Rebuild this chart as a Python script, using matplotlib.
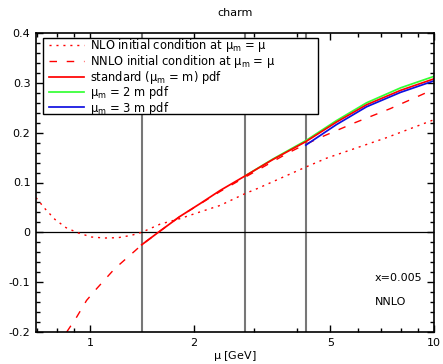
import numpy as np
import matplotlib
matplotlib.use('Agg')
import matplotlib.pyplot as plt
from matplotlib.lines import Line2D
from matplotlib.patches import Rectangle
from matplotlib.ticker import FixedLocator, FixedFormatter, MultipleLocator

plt.rcParams['font.family'] = ['DejaVu Sans']
plt.rcParams['axes.unicode_minus'] = False
plt.rcParams['mathtext.default'] = 'regular'

# values
mass = 1.414
thresholds = [mass, 2 * mass, 3 * mass]

nlo_mu = [0.697, 0.740, 0.791, 0.852, 0.925, 1.011, 1.105, 1.208, 1.32, 1.414,
          1.60, 1.827, 2.09, 2.39, 2.83, 3.07, 4.24, 4.88, 7.28, 10.0]
nlo_val = [0.0696, 0.0475, 0.026, 0.0094, -0.0013, -0.0094, -0.0114, -0.0107, -0.006, 0.0,
           0.0165, 0.0275, 0.041, 0.054, 0.078, 0.088, 0.131, 0.149, 0.190, 0.226]

nnlo_mu = [0.856, 0.915, 0.978, 1.046, 1.18, 1.35, 1.414, 1.58, 1.827, 2.09, 2.39,
           2.83, 3.76, 4.21, 4.77, 5.89, 7.45, 9.48, 10.0]
nnlo_val = [-0.200, -0.170, -0.1365, -0.113, -0.073, -0.0375, -0.025, 0.0, 0.032, 0.057, 0.082,
            0.111, 0.159, 0.176, 0.193, 0.220, 0.248, 0.280, 0.283]

std_mu = [1.414, 1.58, 1.827, 2.09, 2.39, 2.83, 3.4, 4.24, 5.2, 6.37, 8.0, 10.0]
std_val = [-0.025, 0.0, 0.032, 0.0576, 0.084, 0.1135, 0.146, 0.182, 0.221, 0.256, 0.285, 0.308]

two_mu = [2.83, 3.4, 4.24, 5.2, 6.37, 8.0, 10.0]
two_val = [0.1135, 0.147, 0.184, 0.224, 0.260, 0.290, 0.313]

three_mu = [4.24, 5.2, 6.37, 8.0, 10.0]
three_val = [0.175, 0.216, 0.252, 0.281, 0.304]

xticks = [1, 2, 5, 10]
xticklabels = ['1', '2', '5', '10']
yticks = [-0.2, -0.1, 0.0, 0.1, 0.2, 0.3, 0.4]
yticklabels = ['-0.2', '-0.1', '0', '0.1', '0.2', '0.3', '0.4']

fig = plt.figure(figsize=(4.43, 3.64), dpi=100)
ax = fig.add_axes([36 / 443, 1 - 332 / 364, 398 / 443, 299 / 364])

for t in thresholds:
    ax.axvline(t, color='#777777', lw=1.5, zorder=1)
ax.axhline(0, color='black', lw=0.9, zorder=1)

series = [
    (nlo_mu, nlo_val, dict(color='red', lw=1.0, ls=(0, (1.5, 3.5))),
     r'NLO initial condition at $\mu_{m}$ = $\mu$'),
    (nnlo_mu, nnlo_val, dict(color='red', lw=1.0, ls=(0, (5.4, 7.0))),
     r'NNLO initial condition at $\mu_{m}$ = $\mu$'),
    (std_mu, std_val, dict(color='red', lw=1.25),
     r'standard ($\mu_{m}$ = m) pdf'),
    (two_mu, two_val, dict(color='#33ff33', lw=1.25, zorder=1.9),
     r'$\mu_{m}$ = 2 m pdf'),
    (three_mu, three_val, dict(color='#1010e0', lw=1.25),
     r'$\mu_{m}$ = 3 m pdf'),
]
for xs, ys, style, label in series:
    ax.plot(xs, ys, **style)

ax.set_xscale('log')
ax.set_xlim(0.697, 10)
ax.set_ylim(-0.2, 0.4)

ax.xaxis.set_major_locator(FixedLocator(xticks))
ax.xaxis.set_major_formatter(FixedFormatter(xticklabels))
ax.xaxis.set_minor_locator(FixedLocator([0.7, 0.8, 0.9, 3, 4, 6, 7, 8, 9]))
ax.xaxis.set_minor_formatter(FixedFormatter([''] * 9))
ax.yaxis.set_major_locator(FixedLocator(yticks))
ax.yaxis.set_major_formatter(FixedFormatter(yticklabels))
ax.yaxis.set_minor_locator(MultipleLocator(0.02))

ax.tick_params(which='both', direction='in', top=True, right=True, labelsize=8, width=1)
ax.tick_params(which='major', length=5, pad=4)
ax.tick_params(which='minor', length=3)
for s in ax.spines.values():
    s.set_linewidth(1.2)

ax.set_title('charm', fontsize=8, pad=12)
ax.set_xlabel(r'$\mu$ [GeV]', fontsize=8, labelpad=1)

ax.text(0.852, 0.18, 'x=0.005', transform=ax.transAxes, fontsize=8, va='center')
ax.text(0.852, 0.10, 'NNLO', transform=ax.transAxes, fontsize=8, va='center')

# legend drawn by hand: gnuplot-like box, wider than its text, tight rows
box = Rectangle((0.0168, 0.729), 0.6917, 0.255, transform=ax.transAxes,
                facecolor='white', edgecolor='black', lw=1.0, zorder=4)
ax.add_patch(box)
row_px = [45.0, 60.8, 76.6, 92.0, 107.4]
for (xs, ys, style, label), ypx in zip(series, row_px):
    yc = (332 - ypx) / 299
    st = {k: v for k, v in style.items() if k != 'zorder'}
    ax.add_line(Line2D([0.0327, 0.1206], [yc, yc], transform=ax.transAxes,
                       clip_on=False, zorder=5, **st))
    ax.text(0.1345, yc - 0.0145, label, transform=ax.transAxes, fontsize=8.3,
            va='baseline', ha='left', zorder=5)

fig.savefig('out.png', dpi=100)
